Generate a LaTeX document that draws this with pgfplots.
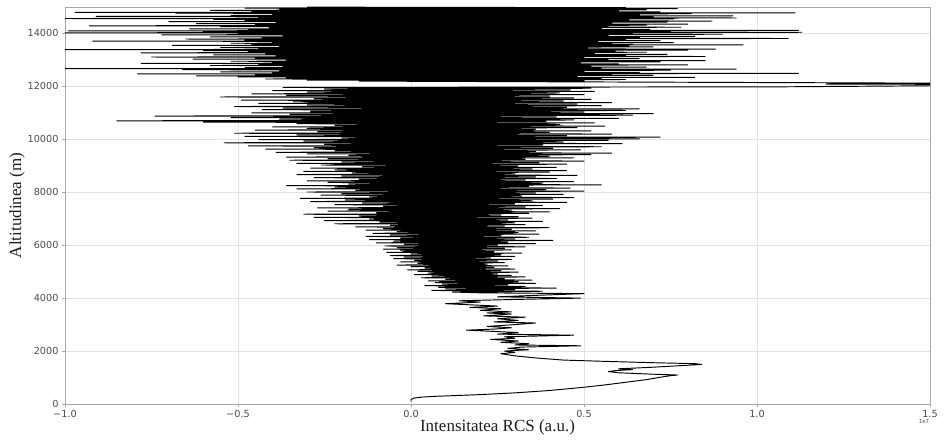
\documentclass[border=0pt]{standalone}
\usepackage{pgfplots}
\usepackage{pgfplotstable}
\pgfplotsset{compat=1.18}
\usepackage{fontspec}
\setmainfont{Liberation Serif}
\newfontfamily\tickfont{DejaVu Sans}
\definecolor{tickgray}{HTML}{4D4D4D}
\definecolor{gridgray}{HTML}{E2E2E2}
\definecolor{framegray}{HTML}{A8A8A8}

\pgfplotstableread[row sep=\\]{
x y\\
0.000 90\\ 0.000 170\\ 0.008 220\\ 0.030 260\\ 0.070 290\\ 0.130 320\\ 0.200 355\\ 0.300 420\\
0.400 510\\ 0.490 620\\ 0.560 720\\ 0.620 820\\ 0.680 920\\ 0.720 1010\\ 0.750 1070\\ 0.770 1095\\
0.700 1125\\ 0.600 1180\\ 0.570 1225\\ 0.590 1260\\ 0.640 1300\\ 0.600 1330\\ 0.700 1390\\ 0.800 1465\\
0.840 1495\\ 0.820 1525\\ 0.700 1560\\ 0.550 1615\\ 0.440 1660\\ 0.360 1740\\ 0.300 1820\\ 0.260 1900\\
0.300 1950\\ 0.270 2000\\ 0.340 2050\\ 0.280 2100\\ 0.320 2150\\ 0.490 2200\\ 0.300 2230\\ 0.340 2280\\
0.260 2330\\ 0.310 2380\\ 0.230 2440\\ 0.300 2480\\ 0.270 2540\\ 0.470 2600\\ 0.250 2640\\ 0.310 2700\\
0.160 2790\\ 0.240 2830\\ 0.290 2880\\ 0.220 2930\\ 0.300 3000\\ 0.360 3060\\ 0.240 3100\\ 0.310 3160\\
0.250 3220\\ 0.330 3280\\ 0.210 3330\\ 0.290 3400\\ 0.220 3440\\ 0.290 3480\\ 0.200 3540\\ 0.260 3600\\
0.170 3650\\ 0.250 3700\\ 0.100 3790\\ 0.200 3850\\ 0.140 3900\\ 0.300 3950\\ 0.490 4000\\ 0.250 4050\\
0.350 4100\\ 0.500 4170\\ 0.200 4200\\
0.12 4230\\ 0.38 4260\\ 0.06 4290\\ 0.30 4320\\ 0.10 4350\\ 0.42 4380\\ 0.08 4410\\ 0.33 4440\\
0.04 4470\\ 0.28 4500\\ 0.09 4530\\ 0.36 4560\\ 0.07 4590\\ 0.31 4620\\ 0.05 4650\\ 0.35 4680\\
0.10 4710\\ 0.27 4740\\ 0.03 4770\\ 0.33 4800\\ 0.06 4830\\ 0.29 4860\\ 0.01 4890\\ 0.25 4920\\
0.05 4950\\ 0.31 4980\\ 0.02 5010\\ 0.26 5040\\ -0.01 5070\\ 0.30 5100\\ 0.04 5130\\ 0.24 5160\\
0.00 5190\\ 0.28 5220\\ -0.04 5250\\ 0.22 5280\\ 0.02 5310\\ 0.27 5340\\ -0.03 5370\\ 0.25 5400\\
0.01 5430\\ 0.29 5460\\ -0.05 5490\\ 0.23 5520\\ -0.02 5550\\ 0.30 5580\\ -0.06 5610\\ 0.26 5640\\
0.00 5670\\ 0.32 5700\\ -0.07 5730\\ 0.24 5760\\ -0.03 5790\\ 0.29 5820\\ -0.08 5850\\ 0.27 5880\\
-0.04 5910\\ 0.33 5940\\ -0.075 5970\\ 0.25 6000\\
-0.02 6030\\ 0.36 6060\\ -0.10 6090\\ 0.28 6120\\ -0.05 6150\\ 0.41 6180\\ -0.12 6210\\ 0.30 6240\\
-0.03 6270\\ 0.34 6300\\ -0.13 6330\\ 0.26 6360\\ -0.06 6390\\ 0.37 6420\\ -0.11 6450\\ 0.31 6480\\
-0.04 6510\\ 0.36 6540\\ -0.13 6570\\ 0.29 6600\\ -0.08 6630\\ 0.40 6660\\ -0.16 6690\\ 0.27 6720\\
-0.06 6750\\ 0.33 6780\\ -0.22 6810\\ 0.30 6840\\ -0.09 6870\\ 0.38 6900\\ -0.25 6930\\ 0.28 6960\\
-0.12 6990\\ 0.35 7020\\ -0.28 7050\\ 0.31 7080\\ -0.15 7110\\ 0.26 7140\\ -0.31 7170\\ 0.34 7200\\
-0.10 7230\\ 0.40 7260\\ -0.24 7290\\ 0.29 7320\\ -0.18 7350\\ 0.43 7380\\ -0.27 7410\\ 0.33 7440\\
-0.08 7470\\ 0.38 7500\\ -0.22 7530\\ 0.30 7560\\ -0.14 7590\\ 0.45 7620\\ -0.29 7650\\ 0.35 7680\\
-0.19 7710\\ 0.41 7740\\ -0.32 7770\\ 0.47 7800\\ -0.12 7830\\ 0.32 7860\\ -0.26 7890\\ 0.44 7920\\
-0.20 7950\\ 0.36 7980\\ -0.30 8010\\ 0.50 8040\\ -0.16 8070\\ 0.39 8100\\ -0.33 8130\\ 0.46 8160\\
-0.22 8190\\ 0.34 8220\\ -0.36 8250\\ 0.55 8280\\ -0.18 8310\\
0.38 8340\\ -0.24 8370\\ 0.47 8400\\ -0.30 8430\\ 0.33 8460\\ -0.15 8490\\ 0.42 8520\\ -0.28 8550\\
0.36 8580\\ -0.20 8610\\ 0.48 8640\\ -0.33 8670\\ 0.30 8700\\ -0.17 8730\\ 0.40 8760\\ -0.31 8790\\
0.45 8820\\ -0.22 8850\\ 0.35 8880\\ -0.29 8910\\ 0.42 8940\\ -0.14 8970\\ 0.31 9000\\ -0.26 9030\\
0.45 9060\\ -0.33 9090\\ 0.37 9120\\ -0.20 9150\\ 0.50 9180\\ -0.35 9210\\ 0.33 9240\\ -0.24 9270\\
0.47 9300\\ -0.36 9330\\ 0.40 9360\\ -0.18 9390\\ 0.52 9420\\ -0.30 9450\\ 0.58 9480\\ -0.39 9510\\
0.36 9540\\ -0.22 9570\\ 0.49 9600\\ -0.42 9630\\ 0.41 9660\\ -0.28 9690\\ 0.55 9720\\ -0.47 9750\\
0.38 9780\\ -0.25 9810\\ 0.61 9840\\ -0.54 9870\\ 0.44 9900\\ -0.31 9930\\ 0.57 9960\\ -0.44 9990\\
0.66 10020\\ -0.20 10050\\ 0.72 10080\\ -0.48 10110\\ 0.45 10140\\ -0.33 10170\\ 0.58 10200\\ -0.51 10230\\
0.40 10260\\ -0.27 10290\\ 0.52 10320\\ -0.45 10350\\ 0.36 10380\\ -0.30 10410\\ 0.48 10440\\ -0.40 10470\\
0.56 10500\\ -0.22 10530\\ 0.43 10560\\ -0.33 10590\\ 0.53 10620\\ -0.60 10650\\ 0.39 10680\\ -0.85 10700\\
0.47 10730\\ -0.38 10760\\ 0.60 10790\\ -0.52 10820\\ 0.42 10850\\ -0.74 10880\\ 0.64 10910\\ -0.35 10940\\
0.70 10970\\ -0.46 11000\\ 0.50 11030\\ -0.29 11060\\ 0.62 11090\\ -0.43 11120\\ 0.66 11150\\ -0.37 11180\\
0.45 11210\\ -0.51 11240\\ 0.55 11270\\ -0.30 11300\\ 0.48 11330\\ -0.44 11360\\ 0.58 11390\\ -0.34 11420\\
0.44 11450\\ -0.49 11480\\ 0.52 11510\\ -0.28 11540\\ 0.47 11570\\ -0.55 11600\\ 0.40 11630\\ -0.36 11660\\
0.50 11690\\ -0.46 11720\\ 0.43 11750\\ -0.30 11780\\ 0.53 11810\\ -0.40 11840\\ 0.46 11870\\ -0.25 11900\\
0.52 11930\\ -0.37 11960\\
1.08 11985\\ 2.00 12070\\ 1.20 12085\\ 2.00 12100\\
-0.15 12200\\ 0.50 12220\\ -0.30 12240\\ 0.62 12260\\ -0.42 12280\\ 0.55 12300\\ -0.36 12320\\ 0.82 12340\\
-0.50 12360\\ 0.48 12380\\ -0.62 12400\\ 0.70 12420\\ -0.45 12440\\ 0.58 12460\\ -0.79 12470\\ 1.12 12490\\
-0.40 12510\\ 0.66 12530\\ -0.55 12550\\ 0.50 12570\\ -0.38 12590\\ 0.75 12610\\ -0.66 12630\\ 0.94 12650\\
-1.05 12670\\ 0.55 12690\\ -0.48 12710\\ 0.68 12730\\ -0.37 12750\\ 0.52 12770\\ -0.58 12790\\ 0.80 12810\\
-0.44 12830\\ 0.60 12850\\ -0.78 12870\\ 0.49 12890\\ -0.40 12910\\ 0.72 12930\\ -0.52 12950\\ 0.85 12970\\
-0.36 12990\\ 0.57 13010\\ -0.63 13030\\ 0.66 13050\\ -0.45 13070\\ 0.50 13090\\ -0.75 13110\\ 0.85 13130\\
-0.39 13150\\ 0.62 13170\\ -0.57 13190\\ 0.74 13210\\ -0.42 13230\\ 0.53 13250\\ -0.78 13270\\ 0.68 13290\\
-0.47 13310\\ 0.59 13330\\ -0.60 13350\\ 0.80 13370\\ -1.06 13390\\ 0.88 13410\\ -0.44 13430\\ 0.51 13450\\
-0.55 13470\\ 0.70 13490\\ -0.38 13510\\ 0.63 13530\\ -0.69 13550\\ 0.96 13570\\ -0.46 13590\\ 0.58 13610\\
-0.52 13630\\ 0.76 13650\\ -0.40 13670\\ 0.54 13690\\ -0.92 13710\\ 0.72 13730\\ -0.48 13750\\ 0.62 13770\\
-0.65 13790\\ 1.09 13810\\ -0.43 13830\\ 0.66 13850\\ -0.58 13870\\ 0.82 13890\\ -0.37 13910\\ 0.57 13930\\
-0.72 13950\\ 0.90 13970\\ -0.50 13990\\ 0.64 14010\\ -1.05 14025\\ 1.13 14045\\ -0.60 14065\\ 0.75 14085\\
-0.99 14100\\ 1.12 14115\\ -0.47 14135\\ 0.69 14155\\ -0.64 14175\\ 0.55 14195\\ -0.41 14215\\ 0.78 14235\\
-0.55 14255\\ 0.57 14275\\ -0.93 14290\\ 0.68 14310\\ -0.45 14330\\ 0.80 14350\\ -0.62 14370\\ 0.58 14390\\
-0.39 14410\\ 0.74 14430\\ -0.70 14450\\ 0.87 14470\\ -0.48 14490\\ 0.63 14510\\ -0.57 14530\\ 0.76 14550\\
-1.05 14565\\ 0.94 14585\\ -0.44 14605\\ 0.70 14625\\ -0.91 14645\\ 0.93 14665\\ -0.52 14685\\ 0.66 14705\\
-0.40 14725\\ 0.81 14745\\ -0.68 14765\\ 1.11 14780\\ -0.97 14795\\ 0.72 14815\\ -0.46 14835\\ 0.60 14855\\
-0.58 14875\\ 0.68 14895\\ -0.38 14915\\ 0.77 14935\\ -0.48 14955\\ 0.62 14975\\ -0.30 14995\\
}\profile

\begin{document}
\begin{tikzpicture}
\begin{axis}[
  at={(0pt,0pt)}, anchor=south west,
  scale only axis,
  width=865pt, height=397pt,
  xmin=-1.0, xmax=1.5, ymin=0, ymax=15000,
  xtick={-1.0,-0.5,0,0.5,1.0,1.5},
  xticklabels={−1.0,−0.5,0.0,0.5,1.0,1.5},
  ytick={0,2000,4000,6000,8000,10000,12000,14000},
  yticklabels={0,2000,4000,6000,8000,10000,12000,14000},
  scaled ticks=false,
  tick label style={font=\tickfont\fontsize{9.7}{11}\selectfont, text=tickgray},
  tick align=outside,
  major tick length=3pt,
  tick style={framegray, line width=0.8pt},
  xtick pos=bottom, ytick pos=left,
  grid=major,
  major grid style={gridgray, line width=0.8pt},
  axis line style={framegray, line width=0.9pt},
  xlabel={Intensitatea RCS (a.u.)},
  ylabel={Altitudinea (m)},
  label style={font=\fontsize{17}{19}\selectfont, text=black!88},
  x label style={at={(axis description cs:0.5,-0.058)}, anchor=center},
  y label style={at={(axis description cs:-0.0555,0.5)}, anchor=center},
  clip=true,
]
\addplot[black, line width=0.95pt, line join=round] table[x=x, y=y] {\profile};
\end{axis}
\node[font=\tickfont\fontsize{5.5}{6}\selectfont, text=tickgray] at (859pt,-18pt) {1e7};
\pgfresetboundingbox
\path[use as bounding box] (-65pt,-40pt) rectangle (884pt,404pt);
\end{tikzpicture}
\end{document}
